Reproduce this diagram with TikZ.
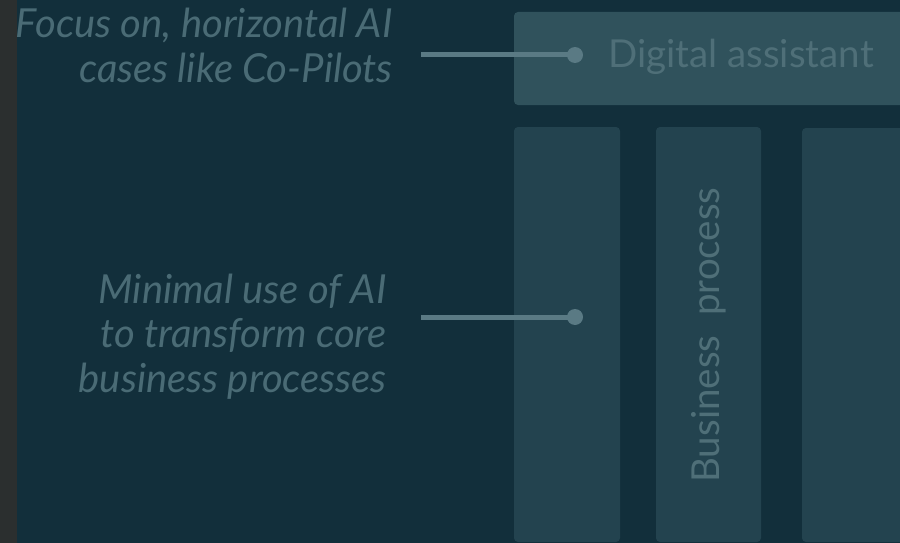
\documentclass[tikz,border=0pt]{standalone}
\usepackage{fontspec}
\setmainfont{Lato}
\definecolor{stripgray}{HTML}{2B2F2F}
\definecolor{deepteal}{HTML}{122F3B}
\definecolor{boxteal}{HTML}{30525C}
\definecolor{colteal}{HTML}{23434F}
\definecolor{notetext}{HTML}{4A6B75}
\definecolor{pintext}{HTML}{4F6F78}
\definecolor{pinline}{HTML}{5A7A84}
\tikzset{
  layerbox/.style={fill=boxteal, rounded corners=4pt},
  colbox/.style={fill=colteal, rounded corners=4pt},
  note/.style={inner sep=0pt, align=right, text=notetext,
    font=\fontsize{40}{44.5}\selectfont\itshape},
  tag/.style={inner sep=0pt, text=pintext, font=\fontsize{38.5}{45}\selectfont},
  pin/.style={draw=pinline, line width=5pt},
  pindot/.style={circle, fill=pinline, inner sep=0pt, minimum size=16pt}
}
\begin{document}
\begin{tikzpicture}[x=1pt,y=-1pt]
  \clip (0,0) rectangle (900,543);
  \fill[stripgray] (0,0) rectangle (17,543);
  \fill[deepteal] (17,0) rectangle (900,543);

  % layer on top and the three columns below it
  \fill[layerbox] (514,12) rectangle (920,105);
  \fill[colbox] (514,127) rectangle (620,542);
  \fill[colbox] (656,127) rectangle (761,542);
  \fill[colbox] (802,128) rectangle (920,542);

  \node[tag, anchor=base west] (assistant) at (608,67) {Digital assistant};
  \node[tag, rotate=90] (process) at (709,335) {Business\ \ process};

  % notes on the left (base = last line)
  \node[note, anchor=base east] (focus) at (393,82) {Focus on, horizontal AI\\cases like Co-Pilots};
  \node[note, anchor=base east] (minimal) at (387,392) {Minimal use of AI\\to transform core\\business processes};

  % pins
  \coordinate (p1) at (421,55);
  \coordinate (p2) at (421,317);
  \node[pindot] (d1) at (575,55) {};
  \node[pindot] (d2) at (575,317) {};
  \draw[pin] (p1) -- (d1.center);
  \draw[pin] (p2) -- (d2.center);
\end{tikzpicture}
\end{document}
